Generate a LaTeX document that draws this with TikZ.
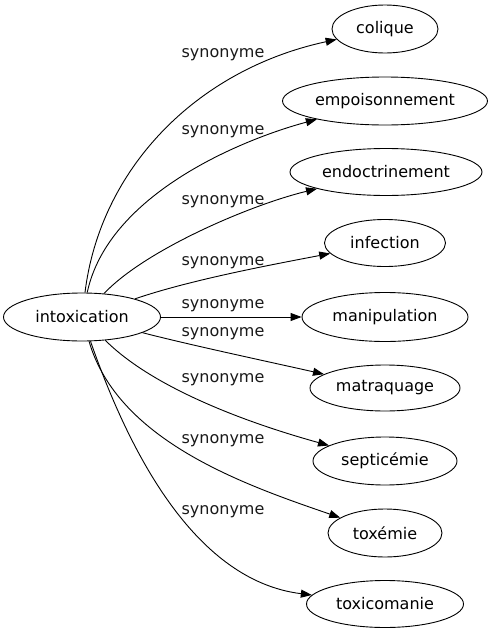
\documentclass[tikz,border=0pt]{standalone}
\usepackage{fontspec}
\setmainfont{DejaVu Sans}
\usetikzlibrary{shapes.geometric,arrows.meta}
\begin{document}
\begin{tikzpicture}[x=1pt,y=-1pt,
  word/.style={draw,ellipse,line width=0.9pt,inner sep=0pt,minimum height=48pt,font=\fontsize{16}{18}\selectfont,text=black},
  lbl/.style={font=\fontsize{16}{18}\selectfont,text=black!90,inner sep=0pt},
  syn/.style={line width=0.9pt,-{Triangle[length=11pt,width=8pt]}}]
\useasboundingbox (0,0) rectangle (493,635);
\node[word,minimum width=157pt] (i) at (82,317) {intoxication};
\node[word,minimum width=106pt] (a) at (385,29) {colique};
\node[word,minimum width=205pt] (b) at (385,101) {empoisonnement};
\node[word,minimum width=192pt,minimum height=47pt] (c) at (386,172) {endoctrinement};
\node[word,minimum width=121pt,minimum height=47pt] (d) at (385,243) {infection};
\node[word,minimum width=166pt,minimum height=49pt] (e) at (385,317) {manipulation};
\node[word,minimum width=150pt,minimum height=46pt] (f) at (385,388) {matraquage};
\node[word,minimum width=144pt] (g) at (385,461) {septicémie};
\node[word,minimum width=114pt] (h) at (385,533) {toxémie};
\node[word,minimum width=157pt,minimum height=47pt] (k) at (385,604) {toxicomanie};
\draw[syn] (i) .. controls (100,170) and (195,70) .. (a);
\draw[syn] (i) .. controls (108,195) and (240,140) .. (b);
\draw[syn] (i) .. controls (145,250) and (250,205) .. (c);
\draw[syn] (i) .. controls (190,280) and (270,265) .. (d);
\draw[syn] (i) -- (e);
\draw[syn] (i) .. controls (190,345) and (270,362) .. (f);
\draw[syn] (i) .. controls (150,385) and (237,420) .. (g);
\draw[syn] (i) .. controls (118,441) and (245,485) .. (h);
\draw[syn] (i) .. controls (125,440) and (190,580) .. (k);
\node[lbl] (la) at (223,55) {synonyme};
\node[lbl] (lb) at (223,132) {synonyme};
\node[lbl] (lc) at (223,202) {synonyme};
\node[lbl] (ld) at (223,263) {synonyme};
\node[lbl] (le) at (223,306) {synonyme};
\node[lbl] (lf) at (223,334) {synonyme};
\node[lbl] (lg) at (223,380) {synonyme};
\node[lbl] (lh) at (223,441) {synonyme};
\node[lbl] (lk) at (223,512) {synonyme};
\end{tikzpicture}
\end{document}
